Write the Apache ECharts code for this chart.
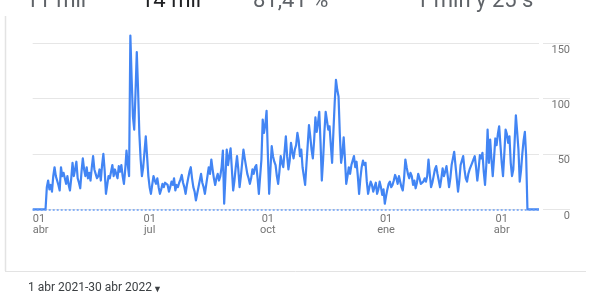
<!DOCTYPE html>
<html>
<head>
<meta charset="utf-8">
<script src="https://cdn.jsdelivr.net/npm/echarts@6/dist/echarts.min.js"></script>
<style>
  html, body { margin: 0; padding: 0; background: #ffffff; }
  #chart { width: 600px; height: 300px; }
</style>
</head>
<body>
<div id="chart"></div>
<script>
// Daily sessions, 1 abr 2021 .. 30 abr 2022 (395 days)
const startDate = '2021-04-01';
const dayCount = 395;
const monthNames = ['ene','feb','mar','abr','may','jun','jul','ago','sep','oct','nov','dic'];
const yTicks = [0, 50, 100, 150];
const headerTexts = ['11 mil', '14 mil', '81,41 %', '1 min y 25 s'];
const dateRangeText = '1 abr 2021-30 abr 2022';

const sessions = [
  0,0,0,0,0,0,0,0,0,0,0,
  20,26,18,22,16,30,38,30,26,22,
  17,38,30,33,28,23,30,22,17,28,
  42,30,36,43,28,24,19,34,46,36,
  30,38,28,33,26,38,48,36,32,28,
  30,36,26,40,50,35,14,22,30,28,
  34,40,30,36,32,28,39,34,40,30,
  23,36,53,40,30,157,118,84,72,105,
  142,108,68,45,30,38,52,66,48,30,
  20,14,22,30,26,23,28,20,14,18,
  23,20,24,25,22,16,20,25,22,28,
  17,22,20,24,27,31,24,20,14,22,
  28,34,38,28,20,16,8,14,20,26,
  32,24,20,14,22,30,38,32,45,36,
  28,22,28,32,26,30,38,53,5,30,
  54,40,48,55,36,17,26,38,48,36,
  20,30,42,54,46,39,32,28,23,28,
  36,32,38,40,28,14,30,45,81,69,
  76,89,50,14,36,57,48,43,40,30,
  23,34,48,42,38,52,66,48,36,44,
  60,52,46,54,58,69,62,48,54,38,
  30,22,40,58,76,66,54,46,62,83,
  70,78,88,60,26,45,70,88,80,72,
  75,58,42,70,96,117,108,102,68,42,
  50,65,45,23,30,38,32,40,44,48,
  38,43,30,14,28,38,44,40,42,25,
  14,20,25,22,16,20,24,14,18,25,
  20,13,18,5,12,18,23,25,20,22,
  26,31,28,23,30,25,20,17,28,45,
  38,32,28,33,30,22,26,19,24,32,
  28,23,22,25,28,25,30,45,32,20,
  24,30,36,39,32,26,20,28,37,30,
  34,39,30,20,28,40,46,52,40,28,
  16,26,40,44,48,36,28,25,32,36,
  39,42,45,48,38,26,36,49,46,51,
  34,22,40,72,42,63,45,30,46,64,
  58,68,75,58,42,30,50,72,68,60,
  66,42,30,36,60,85,70,54,25,35,
  50,62,70,48,
  0,0,0,0,0,0,0,0,0,0
];

// category dates
const dates = [];
(function () {
  const d0 = new Date(startDate + 'T00:00:00Z');
  for (let i = 0; i < dayCount; i++) {
    const d = new Date(d0.getTime() + i * 86400000);
    const y = d.getUTCFullYear();
    const m = String(d.getUTCMonth() + 1).padStart(2, '0');
    const dd = String(d.getUTCDate()).padStart(2, '0');
    dates.push(y + '-' + m + '-' + dd);
  }
})();

const gray = '#5f6368';
const gridColor = '#e6e6e6';
const font = 'Roboto, "Noto Sans", Arial, sans-serif';

const chart = echarts.init(document.getElementById('chart'), null, { renderer: 'canvas' });
chart.setOption({
  animation: false,
  backgroundColor: '#ffffff',
  textStyle: { fontFamily: font },
  grid: [
    { left: 32.7, right: 61, top: 43.3, bottom: 90.7 },
    { left: 543, right: 30, top: 43.3, bottom: 90.7 }
  ],
  xAxis: [
    {
      gridIndex: 0,
      type: 'category',
      data: dates,
      boundaryGap: false,
      axisLine: { show: false },
      axisTick: { show: false },
      splitLine: { show: false },
      axisLabel: {
        interval: function (idx, val) {
          const p = val.split('-');
          return p[2] === '01' && ['01', '04', '07', '10'].indexOf(p[1]) >= 0;
        },
        formatter: function (val) {
          const p = val.split('-');
          return p[2] + '\n' + monthNames[parseInt(p[1], 10) - 1];
        },
        color: '#757575',
        fontSize: 11,
        lineHeight: 11,
        margin: 4,
        alignMinLabel: 'left',
        fontFamily: font
      }
    },
    { gridIndex: 1, type: 'value', show: false, min: 0, max: 1 }
  ],
  yAxis: [
    {
      gridIndex: 0,
      type: 'value',
      min: 0, max: 150, interval: 50,
      axisLine: { show: false },
      axisTick: { show: false },
      axisLabel: { show: false },
      splitLine: { show: true, lineStyle: { color: gridColor, width: 1 } }
    },
    {
      gridIndex: 1,
      type: 'value',
      position: 'right',
      min: 0, max: 150, interval: 50,
      axisLine: { show: false },
      axisTick: { show: false },
      axisLabel: {
        inside: true,
        margin: 0,
        color: '#757575',
        fontSize: 11,
        verticalAlign: 'top',
        padding: [1, 0, 0, 0],
        fontFamily: font,
        formatter: function (v) { return yTicks.indexOf(v) >= 0 ? String(v) : ''; }
      },
      splitLine: { show: true, lineStyle: { color: gridColor, width: 1 } }
    }
  ],
  series: [
    {
      type: 'line',
      xAxisIndex: 0,
      yAxisIndex: 0,
      data: sessions,
      showSymbol: false,
      clip: false,
      z: 3,
      lineStyle: { color: '#4285f4', width: 2.2, join: 'round' },
      itemStyle: { color: '#4285f4' },
      markLine: {
        silent: true,
        symbol: ['none', 'none'],
        label: { show: false },
        lineStyle: { color: '#6a9ef5', width: 1.5, type: [2, 2] },
        data: [{ yAxis: 0 }]
      }
    }
  ],
  graphic: [
    { type: 'text', left: 26, top: -10, style: { text: headerTexts[0], font: '22px ' + font, fill: gray } },
    { type: 'text', left: 141, top: -10, style: { text: headerTexts[1], font: '22px ' + font, fill: '#202124' } },
    { type: 'text', left: 253, top: -10, style: { text: headerTexts[2], font: '22px ' + font, fill: gray } },
    { type: 'text', left: 416, top: -10, style: { text: headerTexts[3], font: '22px ' + font, fill: gray } },
    { type: 'line', shape: { x1: 5.5, y1: 16, x2: 5.5, y2: 271 }, style: { stroke: '#e3e3e3', lineWidth: 1.5 } },
    { type: 'line', shape: { x1: 5, y1: 271.5, x2: 586, y2: 271.5 }, style: { stroke: '#e3e3e3', lineWidth: 1 } },
    { type: 'text', left: 28, top: 282, style: { text: dateRangeText, font: '12px ' + font, fill: '#3c4043' } },
    { type: 'text', left: 153, top: 285, style: { text: '▼', font: '9px ' + font, fill: '#3c4043' } }
  ]
});
</script>
</body>
</html>
